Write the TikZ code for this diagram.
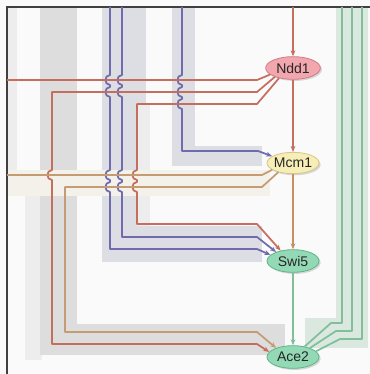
\documentclass[tikz,border=0pt]{standalone}
\usepackage{fontspec}
\setmainfont{Liberation Sans}
\usetikzlibrary{arrows.meta,shadows,shapes.geometric}
\definecolor{redc}{HTML}{C56E5E}
\definecolor{tanc}{HTML}{C49C74}
\definecolor{orc}{HTML}{C98F5E}
\definecolor{bluec}{HTML}{6E6CAE}
\definecolor{greenc}{HTML}{80BF99}
\definecolor{ndfill}{HTML}{F2A6AE}
\definecolor{nddraw}{HTML}{D07C86}
\definecolor{mcfill}{HTML}{F7EDB6}
\definecolor{mcdraw}{HTML}{D6C68A}
\definecolor{grfill}{HTML}{93D9B5}
\definecolor{grdraw}{HTML}{5FB48A}
\definecolor{band}{HTML}{DDDDDD}
\definecolor{bandb}{HTML}{DDDEE3}
\definecolor{bandl}{HTML}{EDEDED}
\definecolor{bandg}{HTML}{DAE8DF}
\definecolor{bandt}{HTML}{F4F0EA}
\begin{document}
\begin{tikzpicture}[x=0.75pt,y=-0.75pt,
  ln/.style={line width=1.3pt,line join=round},
  rl/.style={ln,draw=redc},
  tl/.style={ln,draw=tanc},
  bl/.style={ln,draw=bluec},
  gl/.style={ln,draw=greenc},
  tip/.style={-{Stealth[length=4.5pt,width=3.6pt]}},
  hop/.style 2 args={insert path={-- (#1,#2-5) .. controls (#1-6,#2-5) and (#1-6,#2+5) .. (#1,#2+5)}},
  gene/.style={ellipse,line width=0.6pt,inner xsep=-6pt,inner ysep=0pt,
    font=\fontsize{10.5}{12}\selectfont,text=black!85,
    drop shadow={shadow xshift=1.2pt,shadow yshift=-1.2pt,opacity=0.3}},
  ndd/.style={gene,fill=ndfill,draw=nddraw,minimum width=41pt,minimum height=17pt},
  mcm/.style={gene,fill=mcfill,draw=mcdraw,minimum width=39pt,minimum height=16pt},
  grn/.style={gene,fill=grfill,draw=grdraw,minimum width=39pt,minimum height=17pt}
]
\useasboundingbox (0,0) rectangle (370,374);
\fill[white!98!black] (0,0) rectangle (370,374);
% background bands
\fill[bandl] (8,7) rectangle (17,187);
\fill[bandl] (25,187) rectangle (42,360);
\fill[band] (40,7) rectangle (77,355);
\fill[band] (40,324) rectangle (285,355);
\fill[bandb] (102,7) rectangle (146,262);
\fill[bandb] (102,226) rectangle (262,262);
\fill[bandl] (137,104) rectangle (150,226);
\fill[bandb] (172,7) rectangle (195,166);
\fill[bandb] (172,146) rectangle (262,166);
\fill[bandt] (7,170) rectangle (270,196);
\fill[bandg] (336,7) rectangle (368,348);
\fill[bandg] (305,318) rectangle (368,348);
% frame
\draw[line width=1.1pt,black!75] (7,374) -- (7,7) -- (370,7);
% nodes
\node[ndd] (Ndd1) at (293,68) {Ndd1};
\node[mcm] (Mcm1) at (293,163) {Mcm1};
\node[grn] (Swi5) at (293,261) {Swi5};
\node[grn] (Ace2) at (293,357) {Ace2};
% free ends
\coordinate (tN) at (293,7);
\coordinate (tB1) at (110,7);
\coordinate (tB2) at (122,7);
\coordinate (tB3) at (182,7);
\coordinate (lR) at (7,80);
\coordinate (lT) at (7,175);
\coordinate (tG1) at (342,7);
\coordinate (tG2) at (352,7);
\coordinate (tG3) at (362,7);
% blue inputs
\draw[bl,tip] (tB1) [hop={110}{80}] [hop={110}{92}] [hop={110}{175}] [hop={110}{187}] -- (110,249) -- (257,249) -- (Swi5.165);
\draw[bl,tip] (tB2) [hop={122}{80}] [hop={122}{92}] [hop={122}{175}] [hop={122}{187}] -- (122,237) -- (257,237) -- (Swi5.152);
\draw[bl,tip] (tB3) [hop={182}{80}] [hop={182}{92}] [hop={182}{104}] -- (182,151) -- (258,151) -- (Mcm1.162);
% Ndd1 outputs
\draw[rl] (Ndd1.196) -- (257,80) -- (lR);
\draw[rl,tip] (Ndd1.206) -- (257,92) -- (52,92) [hop={52}{175}] -- (52,344) -- (257,344) -- (Ace2.168);
\draw[rl,tip] (Ndd1.216) -- (257,104) -- (137,104) [hop={137}{175}] [hop={137}{187}] -- (137,224) -- (257,224) -- (Swi5.140);
% Mcm1 outputs
\draw[tl] (Mcm1.198) -- (262,175) -- (lT);
\draw[tl,tip] (Mcm1.212) -- (262,187) -- (65,187) -- (65,332) -- (257,332) -- (Ace2.152);
% spine
\draw[rl,tip] (tN) -- (Ndd1.north);
\draw[rl,tip] (Ndd1.south) -- (Mcm1.north);
\draw[ln,draw=orc,tip] (Mcm1.south) -- (Swi5.north);
\draw[gl,tip] (Swi5.south) -- (Ace2.north);
% Ace2 outputs
\draw[gl] (Ace2.42) -- (331,323) -- (342,323) -- (tG1);
\draw[gl] (Ace2.28) -- (336,331) -- (352,331) -- (tG2);
\draw[gl] (Ace2.14) -- (340,339) -- (362,339) -- (tG3);
\end{tikzpicture}
\end{document}
